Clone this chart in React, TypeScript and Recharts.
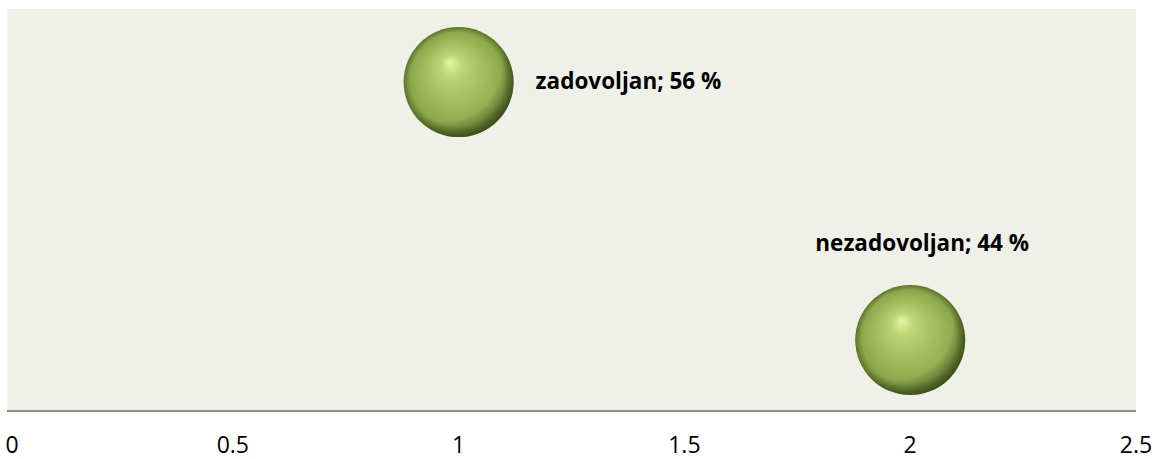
import React from 'react';
import {
  ScatterChart,
  Scatter,
  XAxis,
  YAxis,
  ZAxis,
  CartesianGrid,
  LabelList,
} from 'recharts';

const categories = ['zadovoljan', 'nezadovoljan'];
const xValues = [1, 2];
const yValues = [56, 44];
const percentLabels = ['56 %', '44 %'];
const xTicks = [0, 0.5, 1, 1.5, 2, 2.5];

const data = categories.map((name, i) => ({
  name,
  x: xValues[i],
  y: yValues[i],
  z: 1,
  label: `${name}; ${percentLabels[i]}`,
}));

const BUBBLE_R = 55;
const FONT = "'Open Sans', 'Noto Sans', sans-serif";

const Bubble = (props: any) => {
  const { cx, cy } = props;
  if (cx == null || cy == null) return null;
  return (
    <g>
      <circle cx={cx} cy={cy} r={BUBBLE_R} fill="url(#bubbleBase)" />
      <circle cx={cx} cy={cy} r={BUBBLE_R} fill="url(#bubbleShade)" />
    </g>
  );
};

const XTick = (props: any) => {
  const { x, y, payload, index } = props;
  // Excel nudges the first label inside the chart
  const dx = index === 0 ? 5 : 0;
  return (
    <text x={x + dx} y={y + 34} textAnchor="middle" fontFamily={FONT} fontSize={23} fill="#000">
      {payload.value}
    </text>
  );
};

const PointLabel = (props: any) => {
  const { x, y, width, height, value, index } = props;
  const cx = x + width / 2;
  const cy = y + height / 2;
  const common = { fontFamily: FONT, fontSize: 22.5, fontWeight: 700, fill: '#000' };
  if (index === 0) {
    return (
      <text x={cx + BUBBLE_R + 22} y={cy + 7} textAnchor="start" {...common}>
        {value}
      </text>
    );
  }
  return (
    <text x={cx + 12} y={cy - 89} textAnchor="middle" {...common}>
      {value}
    </text>
  );
};

export default function App() {
  return (
    <div style={{ position: 'absolute', left: 0, top: 0, width: 1162, height: 459 }}>
      <ScatterChart
        width={1162}
        height={459}
        margin={{ top: 9, right: 26, left: 7, bottom: 0 }}
      >
        <defs>
          <radialGradient id="bubbleBase" cx="0.5" cy="0.5" r="0.5" fx="0.42" fy="0.32">
            <stop offset="0%" stopColor="#e6f5a8" />
            <stop offset="20%" stopColor="#bcd676" />
            <stop offset="55%" stopColor="#a0bc5c" />
            <stop offset="85%" stopColor="#8ca84c" />
            <stop offset="100%" stopColor="#5c7428" />
          </radialGradient>
          <radialGradient id="bubbleShade" cx="0.38" cy="0.35" r="0.72">
            <stop offset="0%" stopColor="#000" stopOpacity={0} />
            <stop offset="70%" stopColor="#000" stopOpacity={0} />
            <stop offset="100%" stopColor="#1d2608" stopOpacity={0.55} />
          </radialGradient>
        </defs>
        <CartesianGrid horizontal={false} vertical={false} fill="#eff1e9" stroke="none" />
        <XAxis
          type="number"
          dataKey="x"
          domain={[0, 2.5]}
          ticks={xTicks}
          height={48}
          axisLine={{ stroke: '#8e8e8e', strokeWidth: 2 }}
          tickLine={false}
          tick={<XTick />}
          interval={0}
        />
        <YAxis type="number" dataKey="y" domain={[40.7, 59.4]} hide />
        <ZAxis type="number" dataKey="z" range={[9500, 9500]} />
        <Scatter data={data} shape={<Bubble />} isAnimationActive={false}>
          <LabelList dataKey="label" content={<PointLabel />} />
        </Scatter>
      </ScatterChart>
    </div>
  );
}
